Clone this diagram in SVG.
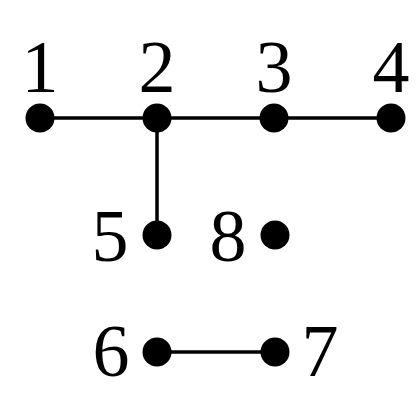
<svg xmlns="http://www.w3.org/2000/svg" width="420" height="420" viewBox="0 0 420 420">
<style>
.n{fill:#000}
.l{font-family:"Liberation Serif","DejaVu Serif",serif;font-size:74px;fill:#000;text-anchor:middle}
.e{stroke:#000;stroke-width:3.5;fill:none}
</style>
<rect width="420" height="420" fill="#fff"/>
<g id="edges">
<line class="e" x1="40" y1="118" x2="391" y2="118"/>
<line class="e" x1="157" y1="118" x2="157" y2="235"/>
<line class="e" x1="157" y1="352" x2="275" y2="352"/>
</g>
<g id="n1"><circle class="n" cx="40" cy="118" r="14.5"/><text class="l" x="40" y="92">1</text></g>
<g id="n2"><circle class="n" cx="157" cy="118" r="14.5"/><text class="l" x="157" y="92">2</text></g>
<g id="n3"><circle class="n" cx="274" cy="118" r="14.5"/><text class="l" x="274" y="92">3</text></g>
<g id="n4"><circle class="n" cx="391" cy="118" r="14.5"/><text class="l" x="391" y="92">4</text></g>
<g id="n5"><circle class="n" cx="157" cy="235" r="14.5"/><text class="l" x="110" y="261">5</text></g>
<g id="n8"><circle class="n" cx="275" cy="235" r="14.5"/><text class="l" x="228" y="261">8</text></g>
<g id="n6"><circle class="n" cx="157" cy="352" r="14.5"/><text class="l" x="111" y="376">6</text></g>
<g id="n7"><circle class="n" cx="275" cy="352" r="14.5"/><text class="l" x="320" y="376">7</text></g>
</svg>
